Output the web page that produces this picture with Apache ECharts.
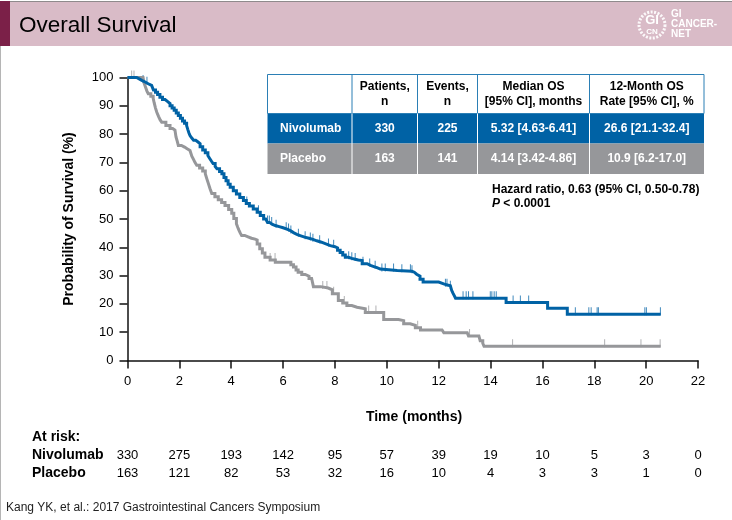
<!DOCTYPE html>
<html>
<head>
<meta charset="utf-8">
<title>Overall Survival</title>
<script src="https://cdn.jsdelivr.net/npm/echarts@6/dist/echarts.min.js"></script>
<style>
  html, body { margin: 0; padding: 0; background: #fff; }
  #chart { width: 732px; height: 520px; }
</style>
</head>
<body>
<div id="chart"></div>
<script>
// curve points: [month, % surviving]
const nivolumabCurve = [
  [0, 100], [0.2, 100], [0.35, 99.5], [0.45, 99], [0.55, 98.4], [0.68, 97.8], [0.8, 97.2], [0.93, 96.6], [1, 95.6],
  [1.08, 94.8], [1.16, 94], [1.25, 93], [1.35, 92.2], [1.45, 91.5], [1.55, 90.8], [1.64, 90], [1.72, 89.2], [1.8, 88.4],
  [1.88, 87.5], [1.96, 86.6], [2.04, 85.6], [2.12, 84.6], [2.2, 83.8], [2.28, 83], [2.33, 81.5], [2.37, 80.4], [2.41, 79.5],
  [2.48, 78.6], [2.55, 77.8], [2.63, 77.2], [2.72, 76.6], [2.8, 75.5], [2.9, 74.4], [3, 73.4], [3.1, 72.4], [3.17, 71.4],
  [3.24, 70.4], [3.3, 69.6], [3.38, 68.6], [3.45, 67.8], [3.55, 66.8], [3.64, 66], [3.72, 64.7], [3.8, 63.5], [3.88, 62.3],
  [3.96, 61.2], [4.08, 60], [4.2, 58.8], [4.33, 57.6], [4.47, 56.5], [4.58, 55.5], [4.7, 54.6], [4.85, 53.5], [5, 52.4],
  [5.12, 51.2], [5.25, 50], [5.33, 49.4], [5.4, 48.8], [5.48, 48.2], [5.57, 47.7], [5.7, 47.3], [5.85, 46.9], [6, 46.4],
  [6.15, 45.9], [6.28, 45.2], [6.4, 44.6], [6.53, 44.1], [6.66, 43.6], [6.83, 43.2], [7, 42.8], [7.15, 42.3], [7.3, 41.8],
  [7.48, 41.2], [7.65, 40.6], [7.82, 40.2], [8, 39.8], [8.1, 39], [8.2, 38.2], [8.3, 37.3], [8.4, 36.5], [8.52, 36.1],
  [8.65, 35.8], [8.78, 35.5], [8.9, 35.3], [9.05, 34.2], [9.24, 33.6], [9.37, 33.2], [9.5, 32.8], [9.62, 32.3], [9.75, 31.8],
  [10.4, 31.5], [10.97, 31.2], [11.06, 30.5], [11.15, 29.8], [11.28, 28.7], [11.4, 27.7], [12, 27], [12.22, 26.4],
  [12.45, 25.7], [12.5, 24.8], [12.55, 23.8], [12.6, 22.9], [12.65, 22], [14.6, 20.5], [16.2, 18.5], [16.96, 16.3],
  [20.56, 16.3]
];
const placeboCurve = [
  [0, 100], [0.6, 100], [0.64, 98], [0.7, 96.5], [0.75, 95.2], [0.8, 94.3], [0.9, 93.4], [0.99, 92.6], [1.03, 91],
  [1.08, 89.2], [1.13, 87.7], [1.2, 86.2], [1.26, 85], [1.32, 84.2], [1.48, 83], [1.64, 82], [1.74, 81.4], [1.83, 80.7],
  [1.87, 79], [1.92, 77.4], [1.96, 76], [2.08, 75.4], [2.2, 74.8], [2.3, 74.2], [2.41, 73.6], [2.48, 72.2], [2.55, 71],
  [2.6, 70], [2.67, 69], [2.78, 68], [2.9, 67], [3, 66], [3.06, 64.2], [3.12, 62.5], [3.18, 60.8], [3.25, 59], [3.37, 57.9],
  [3.5, 56.8], [3.63, 55.8], [3.76, 54.8], [3.9, 53.4], [4.02, 52], [4.1, 50.2], [4.2, 48.3], [4.25, 47.1], [4.3, 46],
  [4.35, 45], [4.4, 44.2], [4.52, 43.7], [4.65, 43.2], [4.78, 42.9], [4.92, 42.6], [5, 41.2], [5.1, 39.5], [5.2, 38],
  [5.3, 36.5], [5.5, 35.5], [5.7, 34.7], [6.2, 34.7], [6.3, 33.8], [6.4, 33], [6.5, 32], [6.58, 31.2], [6.72, 30.4],
  [6.85, 29.8], [7, 29], [7.1, 28.3], [7.17, 26.1], [7.45, 25.6], [7.74, 25], [7.9, 23.6], [8.13, 21.2], [8.3, 20.3],
  [8.46, 19.4], [8.65, 18.8], [8.85, 18.3], [9.17, 17], [9.8, 17], [9.88, 14.5], [10.45, 14.1], [10.65, 13], [10.9, 12.4],
  [11.1, 11.6], [11.3, 10.8], [12.13, 10.8], [12.2, 9.8], [13.1, 9.8], [13.15, 8.7], [13.55, 8.7], [13.6, 7], [13.7, 6.1],
  [13.75, 5], [20.56, 5]
];
const nivolumabCensored = [
  0.6, 0.75, 4.6, 5.05, 5.4, 5.47, 5.56, 5.73, 6.12, 6.21, 6.3, 6.59, 6.85, 7.05, 7.15, 7.41, 7.75, 7.95, 8.53, 8.65, 8.78,
  9.08, 9.34, 9.55, 9.81, 9.94, 10.26, 10.58, 10.91, 10.97, 12.26, 12.32, 12.45, 12.94, 13.06, 13.15, 13.32, 13.99, 14.05,
  14.14, 14.22, 14.87, 15.15, 15.47, 17.27, 17.79, 17.88, 18.11, 18.16, 19.95, 20.01, 20.55
];
const placeboCensored = [0.16, 0.25, 5.5, 5.69, 7.53, 7.69, 7.95, 8.36, 9.3, 9.58, 11.19, 13.19, 14.85, 18.4, 19.8, 20.54];

const atRiskNivolumab = [330, 275, 193, 142, 95, 57, 39, 19, 10, 5, 3, 0];
const atRiskPlacebo = [163, 121, 82, 53, 32, 16, 10, 4, 3, 3, 1, 0];

const tableHeader = ["", "Patients,\nn", "Events,\nn", "Median OS\n[95% CI], months", "12-Month OS\nRate [95% CI], %"];
const tableNivolumab = ["Nivolumab", "330", "225", "5.32 [4.63-6.41]", "26.6 [21.1-32.4]"];
const tablePlacebo = ["Placebo", "163", "141", "4.14 [3.42-4.86]", "10.9 [6.2-17.0]"];

const BLUE = "#0062a5";
const GRAY = "#96979a";
const FONT = '"Liberation Sans", Arial, sans-serif';

// height of a step curve at month t
function survivalAt(curve, t) {
  let y = curve[0][1];
  for (const p of curve) {
    if (p[0] <= t) y = p[1];
  }
  return y;
}

function censorSeries(times, curve, color) {
  return {
    type: "scatter",
    silent: true,
    symbol: "rect",
    symbolSize: [1, 8],
    symbolOffset: [0, -3],
    itemStyle: { color: color, opacity: 0.75 },
    data: times.map(t => [t, survivalAt(curve, t)]),
    z: 2
  };
}

function txt(x, y, text, size, extra) {
  return {
    type: "text", x: x, y: y, silent: true,
    style: Object.assign({ text: text, font: size + "px " + FONT, fill: "#000", textVerticalAlign: "middle" }, extra || {})
  };
}

function rect(x, y, w, h, fill) {
  return { type: "rect", silent: true, shape: { x: x, y: y, width: w, height: h }, style: { fill: fill } };
}

// page furniture
const graphics = [
  rect(0, 1, 732, 45, "#d9bbc7"),
  rect(0, 1, 732, 1, "#8f8a8c"),
  rect(0, 1, 10, 45, "#7b2048"),
  rect(0, 46, 1, 474, "#b5b5b5"),
  txt(19, 26, "Overall Survival", 22.5),
  { type: "circle", silent: true, shape: { cx: 652, cy: 25, r: 13 }, style: { fill: "none", stroke: "#fff", lineWidth: 3, lineDash: [2, 1.5], opacity: 0.9 } },
  txt(652, 20, "GI", 13, { fill: "#fff", textAlign: "center", font: "bold 13px " + FONT }),
  txt(652, 32, "CN", 8, { fill: "#fff", textAlign: "center", font: "bold 8px " + FONT }),
  txt(671, 14, "GI", 10, { fill: "#fff", font: "bold 10px " + FONT }),
  txt(671, 24, "CANCER-", 10, { fill: "#fff", font: "bold 10px " + FONT }),
  txt(671, 34, "NET", 10, { fill: "#fff", font: "bold 10px " + FONT }),
  txt(492, 190, "Hazard ratio, 0.63 (95% CI, 0.50-0.78)", 12, { font: "bold 12px " + FONT }),
  txt(492, 204, "P", 12, { font: "italic bold 12px " + FONT }),
  txt(500, 204, " < 0.0001", 12, { font: "bold 12px " + FONT }),
  txt(414, 417, "Time (months)", 14, { textAlign: "center", font: "bold 14px " + FONT }),
  txt(32, 437, "At risk:", 14, { font: "bold 14px " + FONT }),
  txt(32, 455, "Nivolumab", 14, { font: "bold 14px " + FONT }),
  txt(32, 473, "Placebo", 14, { font: "bold 14px " + FONT }),
  txt(6, 508, "Kang YK, et al.: 2017 Gastrointestinal Cancers Symposium", 12, { fill: "#222" })
];

// results table
const colX = [267.5, 352, 417.5, 477.5, 589.5, 704];
const rowY = [74.5, 113.5, 143.5, 174];
graphics.push(rect(colX[0], rowY[1], colX[5] - colX[0], rowY[2] - rowY[1], BLUE));
graphics.push(rect(colX[0], rowY[2], colX[5] - colX[0], rowY[3] - rowY[2], GRAY));
graphics.push({
  type: "rect", silent: true,
  shape: { x: colX[0], y: rowY[0], width: colX[5] - colX[0], height: rowY[1] - rowY[0] },
  style: { fill: "none", stroke: "#2b7fb5", lineWidth: 1 }
});
colX.slice(1, 5).forEach(x => {
  graphics.push({
    type: "line", silent: true, shape: { x1: x, y1: rowY[0], x2: x, y2: rowY[1] },
    style: { stroke: "#2b7fb5", lineWidth: 1 }
  });
  graphics.push({
    type: "line", silent: true, shape: { x1: x, y1: rowY[1], x2: x, y2: rowY[3] },
    style: { stroke: "#fff", lineWidth: 1 }
  });
});
for (let c = 1; c < 5; c++) {
  graphics.push(txt((colX[c] + colX[c + 1]) / 2, (rowY[0] + rowY[1]) / 2, tableHeader[c], 12,
    { font: "bold 12px " + FONT, textAlign: "center", lineHeight: 15 }));
}
[tableNivolumab, tablePlacebo].forEach((row, r) => {
  const cy = (rowY[r + 1] + rowY[r + 2]) / 2;
  graphics.push(txt(280, cy, row[0], 12, { font: "bold 12px " + FONT, fill: "#fff" }));
  for (let c = 1; c < 5; c++) {
    graphics.push(txt((colX[c] + colX[c + 1]) / 2, cy, row[c], 12,
      { font: "bold 12px " + FONT, fill: "#fff", textAlign: "center" }));
  }
});

// at-risk rows are extra x axes, so the counts sit under the month ticks
function atRiskAxis(values, offset) {
  return {
    type: "value", position: "bottom", min: 0, max: 22, interval: 2, offset: offset,
    axisLine: { show: false }, axisTick: { show: false }, splitLine: { show: false },
    axisLabel: {
      color: "#000", fontFamily: FONT, fontSize: 13, margin: 0, verticalAlign: "middle",
      showMinLabel: true, showMaxLabel: true,
      hideOverlap: false,
      formatter: v => String(values[v / 2])
    }
  };
}

const chart = echarts.init(document.getElementById("chart"), null, { renderer: "canvas" });

chart.setOption({
  animation: false,
  backgroundColor: "#fff",
  graphic: graphics,
  grid: { left: 127.5, right: 34, top: 77.5, bottom: 159.5 },
  xAxis: [
    {
      type: "value", min: 0, max: 22, interval: 2,
      axisLine: { show: true, lineStyle: { color: "#111", width: 1.5 } },
      axisTick: { show: true, length: 8, lineStyle: { color: "#111", width: 1.5 } },
      axisLabel: { color: "#000", fontFamily: FONT, fontSize: 13, margin: 14, showMinLabel: true, showMaxLabel: true },
      splitLine: { show: false }
    },
    atRiskAxis(atRiskNivolumab, 95),
    atRiskAxis(atRiskPlacebo, 112.5)
  ],
  yAxis: {
    type: "value", min: 0, max: 100, interval: 10,
    name: "Probability of Survival (%)",
    nameLocation: "middle", nameGap: 51, nameRotate: 90,
    nameTextStyle: { color: "#000", fontFamily: FONT, fontSize: 14, fontWeight: "bold" },
    axisLine: { show: true, lineStyle: { color: "#111", width: 1.5 } },
    axisTick: { show: true, length: 8, lineStyle: { color: "#111", width: 1.5 } },
    axisLabel: { color: "#000", fontFamily: FONT, fontSize: 13, margin: 14 },
    splitLine: { show: false }
  },
  series: [
    censorSeries(placeboCensored, placeboCurve, GRAY),
    censorSeries(nivolumabCensored, nivolumabCurve, BLUE),
    {
      type: "line", step: "end", symbol: "none", silent: true, data: placeboCurve,
      lineStyle: { color: GRAY, width: 3, join: "miter" }, z: 3
    },
    {
      type: "line", step: "end", symbol: "none", silent: true, data: nivolumabCurve,
      lineStyle: { color: BLUE, width: 3, join: "miter" }, z: 4
    }
  ]
});
</script>
</body>
</html>
